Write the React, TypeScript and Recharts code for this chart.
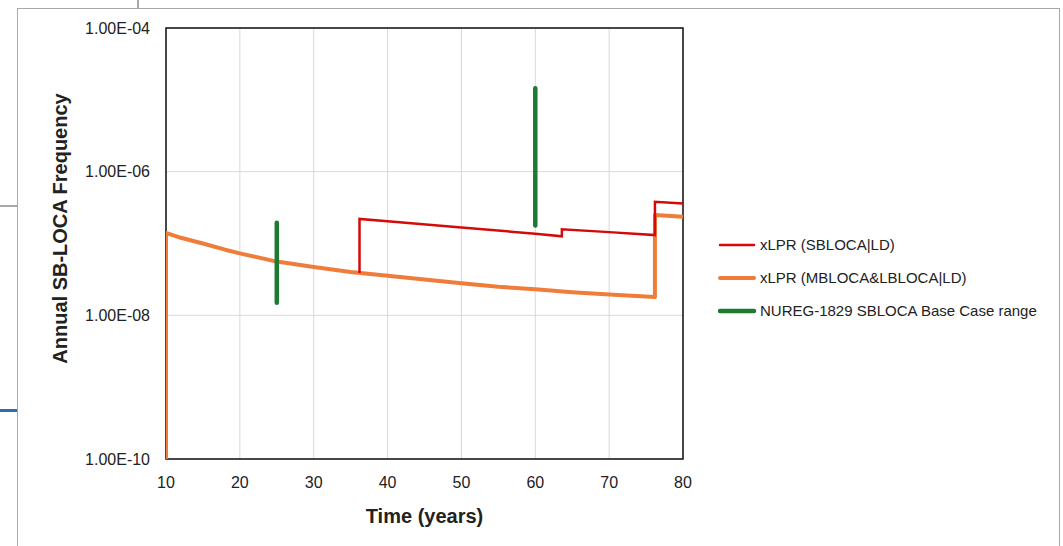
import React from 'react';
import {
  LineChart,
  Line,
  XAxis,
  YAxis,
  CartesianGrid,
  ReferenceArea,
  Label,
} from 'recharts';

// orange: xLPR (MBLOCA&LBLOCA|LD)
const mlYears = [10, 10, 12, 15, 18, 20, 25, 30, 35, 40, 45, 50, 55, 60, 65, 70, 76.2, 76.2, 80];
const mlValues = [1e-10, 1.4e-7, 1.2e-7, 1.0e-7, 8.2e-8, 7.3e-8, 5.6e-8, 4.7e-8, 4.0e-8, 3.55e-8, 3.15e-8, 2.8e-8, 2.5e-8, 2.3e-8, 2.1e-8, 1.95e-8, 1.8e-8, 2.5e-7, 2.35e-7];

// red: xLPR (SBLOCA|LD)
const sbYears = [36.2, 36.2, 40, 50, 60, 63.6, 63.6, 70, 76.2, 76.2, 80];
const sbValues = [3.9e-8, 2.2e-7, 2.04e-7, 1.67e-7, 1.37e-7, 1.26e-7, 1.58e-7, 1.44e-7, 1.31e-7, 3.8e-7, 3.6e-7];

// green: NUREG-1829 ranges
const nuregA = { year: 25, low: 1.5e-8, high: 1.95e-7 };
const nuregB = { year: 60, low: 1.78e-7, high: 1.45e-5 };

const xTicks = [10, 20, 30, 40, 50, 60, 70, 80];
const yTicks = [1e-10, 1e-8, 1e-6, 1e-4];

const RED = '#d40a0a';
const ORANGE = '#f07c3a';
const GREEN = '#1c7a32';

const toPoints = (xs: number[], ys: number[]) => xs.map((x, i) => ({ x, y: ys[i] }));
const mlData = toPoints(mlYears, mlValues);
const sbData = toPoints(sbYears, sbValues);
const nuregDataA = [{ x: nuregA.year, y: nuregA.high }, { x: nuregA.year, y: nuregA.low }];
const nuregDataB = [{ x: nuregB.year, y: nuregB.high }, { x: nuregB.year, y: nuregB.low }];

const legendItems = [
  { name: 'xLPR (SBLOCA|LD)', color: RED, width: 2.5 },
  { name: 'xLPR (MBLOCA&LBLOCA|LD)', color: ORANGE, width: 4 },
  { name: 'NUREG-1829 SBLOCA Base Case range', color: GREEN, width: 4.5 },
];

const fmtExp = (v: number) => {
  const [m, e] = v.toExponential(2).split('e');
  const n = Math.abs(parseInt(e, 10));
  return `${m}E${e.startsWith('-') ? '-' : '+'}${String(n).padStart(2, '0')}`;
};

const FONT = '"Liberation Sans", Arial, sans-serif';

const ChartLegend = () => (
  <div style={{ position: 'absolute', left: 718, top: 228, fontFamily: FONT, fontSize: 15, color: '#222' }}>
    {legendItems.map((it) => (
      <div key={it.name} style={{ display: 'flex', alignItems: 'center', height: 33 }}>
        <svg width={40} height={10} style={{ marginRight: 2 }}>
          <line x1={2} y1={5} x2={36} y2={5} stroke={it.color} strokeWidth={it.width} strokeLinecap="round" />
        </svg>
        <span>{it.name}</span>
      </div>
    ))}
  </div>
);

export default function App() {
  return (
    <div style={{ position: 'absolute', left: 0, top: 0, width: 1063, height: 546, background: '#fff', overflow: 'hidden' }}>
      {/* screenshot frame */}
      <div style={{ position: 'absolute', left: 17, top: 8, width: 1041, height: 540, border: '1.5px solid #a8a8a8' }} />
      <div style={{ position: 'absolute', left: 137, top: 0, width: 1.5, height: 8, background: '#a8a8a8' }} />
      <div style={{ position: 'absolute', left: 0, top: 205, width: 17, height: 1.5, background: '#a8a8a8' }} />
      <div style={{ position: 'absolute', left: 0, top: 409, width: 17, height: 3, background: '#2e6db0' }} />
      <div style={{ position: 'absolute', left: 0, top: 0 }}>
        <LineChart width={1063} height={546} margin={{ top: 28, right: 380, left: 0, bottom: 0 }}>
          <CartesianGrid stroke="#d9d9d9" strokeWidth={1} />
          <XAxis
            dataKey="x"
            type="number"
            domain={[10, 80]}
            ticks={xTicks}
            allowDataOverflow
            height={87}
            tickLine={false}
            axisLine={false}
            tickMargin={12}
            tick={{ fill: '#222', fontSize: 16, fontFamily: FONT }}
          >
            <Label
              content={({ viewBox }: any) => (
                <text
                  x={viewBox.x + viewBox.width / 2}
                  y={viewBox.y + 64}
                  textAnchor="middle"
                  fontFamily={FONT}
                  fontWeight="bold"
                  fontSize={20}
                  fill="#222"
                >
                  Time (years)
                </text>
              )}
            />
          </XAxis>
          <YAxis
            dataKey="y"
            type="number"
            scale="log"
            domain={[1e-10, 1e-4]}
            ticks={yTicks}
            allowDataOverflow
            width={166}
            tickLine={false}
            axisLine={false}
            tickMargin={10}
            tickFormatter={fmtExp}
            tick={{ fill: '#222', fontSize: 16, fontFamily: FONT }}
          >
            <Label
              content={({ viewBox }: any) => {
                const cx = 60;
                const cy = viewBox.y + viewBox.height / 2 - 15;
                return (
                  <text
                    x={cx}
                    y={cy}
                    transform={`rotate(-90, ${cx}, ${cy})`}
                    textAnchor="middle"
                    dominantBaseline="central"
                    fontFamily={FONT}
                    fontWeight="bold"
                    fontSize={20}
                    fill="#222"
                  >
                    Annual SB-LOCA Frequency
                  </text>
                );
              }}
            />
          </YAxis>
          <ReferenceArea x1={10} x2={80} y1={1e-10} y2={1e-4} fill="none" stroke="#111" strokeWidth={1.5} ifOverflow="visible" />
          <Line data={mlData} dataKey="y" type="linear" stroke={ORANGE} strokeWidth={4} dot={false} isAnimationActive={false} strokeLinejoin="round" />
          <Line data={sbData} dataKey="y" type="linear" stroke={RED} strokeWidth={2.5} dot={false} isAnimationActive={false} />
          <Line data={nuregDataA} dataKey="y" type="linear" stroke={GREEN} strokeWidth={4.5} strokeLinecap="round" dot={false} isAnimationActive={false} />
          <Line data={nuregDataB} dataKey="y" type="linear" stroke={GREEN} strokeWidth={4.5} strokeLinecap="round" dot={false} isAnimationActive={false} />
        </LineChart>
      </div>
      <ChartLegend />
    </div>
  );
}
